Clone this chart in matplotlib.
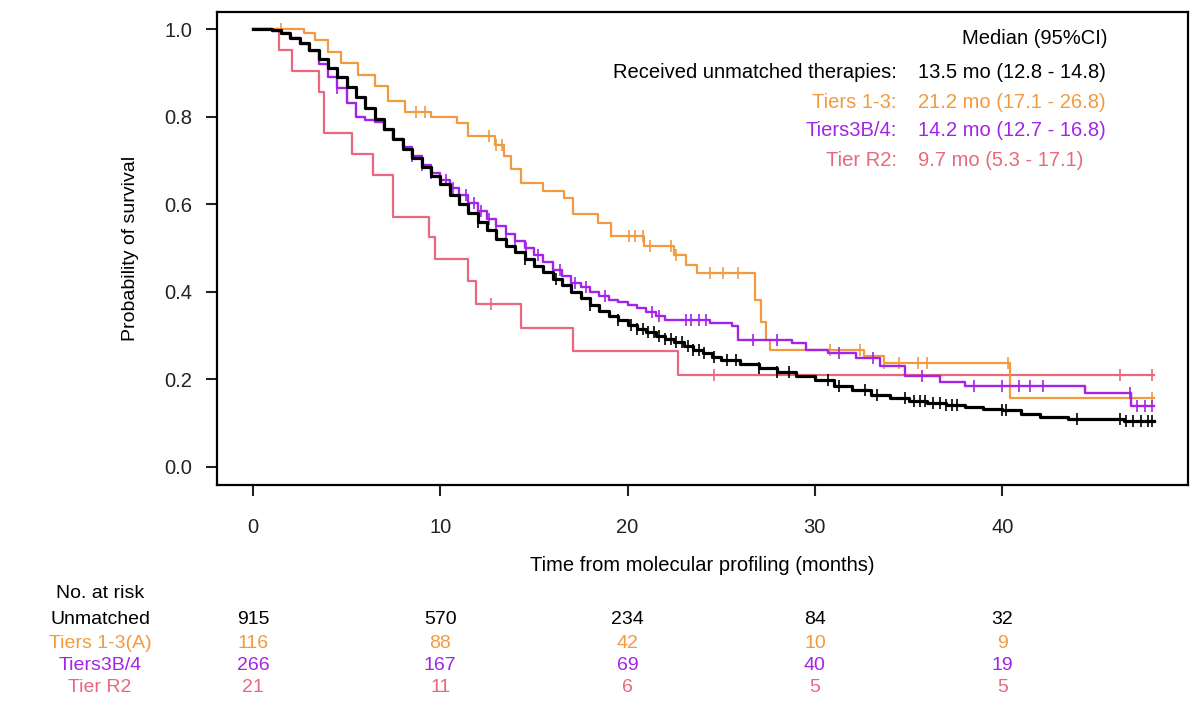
import numpy as np
import matplotlib.pyplot as plt

plt.rcParams['font.family'] = ['Liberation Sans', 'DejaVu Sans']

# Kaplan-Meier step points (months, survival)
unm_t = [0, 0.5, 1.0, 1.5, 2.0, 2.5, 3.0, 3.5, 4.0, 4.5, 5.0, 5.5, 6.0, 6.5, 7.0, 7.5,
         8.0, 8.5, 9.0, 9.5, 10.0, 10.5, 11.0, 11.5, 12.0, 12.5, 13.0, 13.5, 14.0, 14.5,
         15.0, 15.5, 16.0, 16.5, 17.0, 17.5, 18.0, 18.5, 19.0, 19.5, 20.0, 20.5, 21.0,
         21.5, 22.0, 22.5, 23.0, 23.5, 24.0, 24.5, 25.0, 26.0, 27.0, 28.0, 29.0, 30.0,
         31.0, 32.0, 33.0, 34.0, 35.0, 36.0, 37.0, 38.0, 39.0, 40.0, 41.0, 42.0, 43.5,
         46.5, 48.1]
unm_s = [1.0, 1.0, 0.997, 0.99, 0.98, 0.968, 0.952, 0.932, 0.91, 0.89, 0.868, 0.845,
         0.82, 0.795, 0.772, 0.748, 0.726, 0.705, 0.685, 0.665, 0.645, 0.622, 0.60, 0.58,
         0.56, 0.54, 0.52, 0.505, 0.49, 0.475, 0.46, 0.445, 0.43, 0.415, 0.40, 0.385,
         0.37, 0.357, 0.345, 0.335, 0.325, 0.316, 0.308, 0.30, 0.293, 0.285, 0.277, 0.268,
         0.26, 0.252, 0.245, 0.235, 0.225, 0.216, 0.207, 0.198, 0.185, 0.175, 0.165,
         0.157, 0.15, 0.146, 0.142, 0.137, 0.133, 0.13, 0.12, 0.113, 0.11, 0.105, 0.105]
unm_cens = [12.0, 14.5, 16.2, 18.0, 19.5, 20.2, 20.5, 20.8, 21.1, 21.4, 21.7, 22.0, 22.3,
            22.6, 22.9, 23.2, 23.5, 23.8, 24.1, 24.6, 25.3, 25.8, 27.0, 28.0, 28.6, 30.7,
            31.3, 32.7, 33.3, 34.8, 35.3, 35.6, 35.9, 36.3, 36.7, 37.0, 37.3, 37.6, 40.0,
            40.2, 44.0, 46.3, 46.6, 47.0, 47.4, 47.8, 48.0]

t13_t = [0, 2.7, 3.3, 4.0, 4.7, 5.6, 6.5, 7.2, 8.1, 9.5, 10.9, 11.5, 12.9, 13.4, 13.8,
         14.3, 15.5, 16.6, 17.1, 18.4, 19.1, 20.9, 22.5, 23.1, 23.7, 26.8, 27.1, 27.4,
         27.6, 32.6, 33.7, 40.4, 48.1]
t13_s = [1.0, 0.991, 0.974, 0.948, 0.922, 0.896, 0.87, 0.835, 0.81, 0.80, 0.785, 0.755,
         0.735, 0.71, 0.68, 0.648, 0.63, 0.615, 0.578, 0.557, 0.527, 0.504, 0.484, 0.462,
         0.443, 0.382, 0.33, 0.29, 0.268, 0.253, 0.237, 0.157, 0.157]
t13_cens = [1.5, 8.7, 9.2, 12.6, 13.0, 13.3, 20.1, 20.4, 20.8, 21.2, 22.3, 22.6, 24.4,
            25.1, 25.9, 30.8, 32.4, 33.7, 34.5, 35.5, 36.0, 40.3, 48.0]

t3b_t = [0, 0.5, 1.0, 1.5, 2.0, 2.5, 3.0, 3.5, 4.0, 4.5, 5.0, 5.5, 6.0, 6.5, 7.0, 7.5,
         8.0, 8.5, 9.0, 9.5, 10.0, 10.5, 11.0, 11.5, 12.0, 12.5, 13.0, 13.5, 14.0, 14.5,
         15.0, 15.5, 16.0, 16.5, 17.0, 17.5, 18.0, 18.5, 19.0, 19.5, 20.0, 20.5, 21.0,
         21.5, 22.0, 24.4, 25.6, 25.9, 28.8, 29.5, 30.7, 32.2, 33.5, 34.8, 36.7, 38.0,
         44.4, 46.9, 48.1]
t3b_s = [1.0, 1.0, 0.996, 0.99, 0.98, 0.965, 0.95, 0.92, 0.89, 0.865, 0.83, 0.80, 0.792,
         0.787, 0.77, 0.75, 0.73, 0.71, 0.69, 0.672, 0.655, 0.638, 0.62, 0.602, 0.585,
         0.567, 0.55, 0.532, 0.515, 0.50, 0.485, 0.468, 0.45, 0.435, 0.42, 0.41, 0.40,
         0.39, 0.382, 0.376, 0.37, 0.362, 0.355, 0.345, 0.336, 0.329, 0.321, 0.291, 0.283,
         0.268, 0.26, 0.249, 0.23, 0.207, 0.195, 0.184, 0.168, 0.14, 0.14]
t3b_cens = [4.5, 8.5, 9.0, 9.5, 10.0, 10.3, 10.7, 11.0, 11.4, 11.8, 12.2, 12.6, 13.0, 13.5,
            14.0, 14.6, 15.2, 16.0, 16.4, 17.2, 17.8, 18.8, 21.3, 21.7, 23.1, 23.4, 23.8,
            24.2, 26.7, 28.0, 31.3, 33.1, 35.7, 38.5, 40.0, 40.9, 41.5, 42.2, 46.8, 47.2,
            47.6, 48.0]

r2_t = [0, 1.4, 2.1, 3.5, 3.8, 5.3, 6.4, 7.5, 9.4, 9.7, 11.5, 11.9, 14.3, 17.1, 22.7, 48.1]
r2_s = [1.0, 0.952, 0.905, 0.857, 0.762, 0.714, 0.667, 0.571, 0.524, 0.476, 0.424, 0.371,
        0.317, 0.264, 0.211, 0.211]
r2_cens = [12.7, 24.6, 46.3, 48.0]

# number at risk table
risk_times = [0, 10, 20, 30, 40]
risk_labels = ['Unmatched', 'Tiers 1-3(A)', 'Tiers3B/4', 'Tier R2']
risk_unm = [915, 570, 234, 84, 32]
risk_t13 = [116, 88, 42, 10, 9]
risk_t3b = [266, 167, 69, 40, 19]
risk_r2 = [21, 11, 6, 5, 5]

# medians
med_labels = ['Received unmatched therapies:', 'Tiers 1-3:', 'Tiers3B/4:', 'Tier R2:']
med_values = ['13.5 mo (12.8 - 14.8)', '21.2 mo (17.1 - 26.8)',
              '14.2 mo (12.7 - 16.8)', '9.7 mo (5.3 - 17.1)']

colors = ['#000000', '#F29A3F', '#A324E6', '#E9687D']
series = [(unm_t, unm_s, unm_cens, 2.3),
          (t13_t, t13_s, t13_cens, 1.6),
          (t3b_t, t3b_s, t3b_cens, 1.7),
          (r2_t, r2_s, r2_cens, 1.6)]

W, H = 1202, 711
fig = plt.figure(figsize=(W / 100, H / 100), dpi=100)
ax = fig.add_axes([217 / W, 1 - 484.5 / H, (1188 - 217) / W, (484.5 - 11.5) / H])

for idx in [3, 1, 2, 0]:
    t, s, cens, lw = series[idx]
    t = np.array(t)
    s = np.array(s)
    ax.step(t, s, where='post', color=colors[idx], lw=lw)
    c = np.array(cens)
    cy = s[np.searchsorted(t, c, side='right') - 1]
    ax.plot(c, cy, ls='none', marker='|', ms=9, mew=1.2, color=colors[idx])

ax.set_xlim(-1.92, 49.92)
ax.set_ylim(-0.04, 1.04)
ax.set_xticks(risk_times)
ax.set_yticks([0.0, 0.2, 0.4, 0.6, 0.8, 1.0])
ax.set_yticklabels(['0.0', '0.2', '0.4', '0.6', '0.8', '1.0'])
ax.tick_params(axis='both', direction='out', length=8, width=1.5, labelsize=14.5,
               colors='#222222')
ax.tick_params(axis='x', pad=16)
ax.tick_params(axis='y', pad=10)
for sp in ax.spines.values():
    sp.set_linewidth(1.6)

ax.set_xlabel('Time from molecular profiling (months)', fontsize=14.5, labelpad=14)
ax.set_ylabel('Probability of survival', fontsize=14, labelpad=18)

# median annotations
fig.text(1035 / W, 1 - 38 / H, 'Median (95%CI)', ha='center', va='center', fontsize=14.5)
row_y = [73, 102, 131, 160]
for i in range(4):
    fig.text(897 / W, 1 - row_y[i] / H, med_labels[i], ha='right', va='center',
             fontsize=14.5, color=colors[i])
    fig.text(918 / W, 1 - row_y[i] / H, med_values[i], ha='left', va='center',
             fontsize=14.5, color=colors[i])

# numbers at risk
fig.text(100 / W, 1 - 593 / H, 'No. at risk', ha='center', va='center', fontsize=14)
risk_rows = [risk_unm, risk_t13, risk_t3b, risk_r2]
risk_y = [620, 643, 665, 688]
for i, row in enumerate(risk_rows):
    yf = 1 - risk_y[i] / H
    fig.text(100 / W, yf, risk_labels[i], ha='center', va='center', fontsize=14,
             color=colors[i])
    for t, n in zip(risk_times, row):
        xf = fig.transFigure.inverted().transform(ax.transData.transform((t, 0)))[0]
        fig.text(xf, yf, str(n), ha='center', va='center', fontsize=14, color=colors[i])

fig.savefig('out.png', dpi=100)
